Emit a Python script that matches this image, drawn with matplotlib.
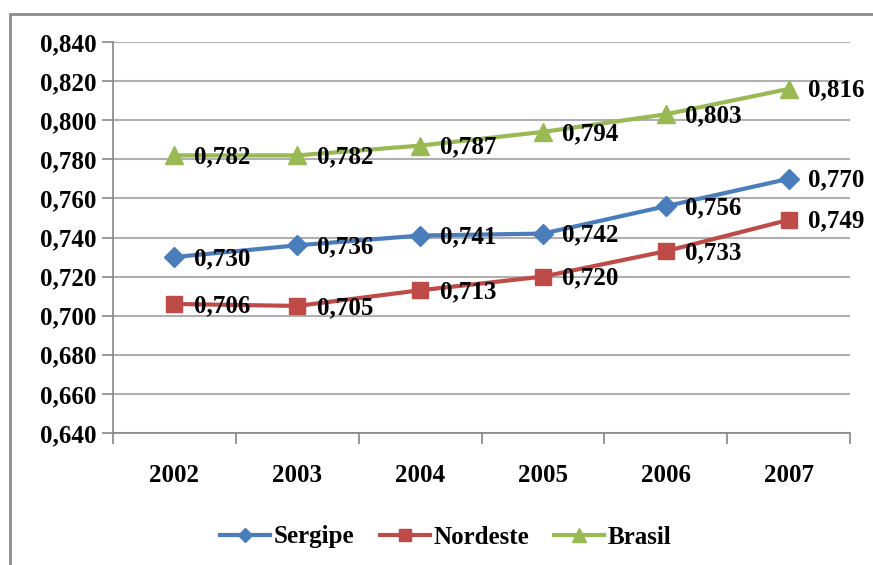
import matplotlib.pyplot as plt
from matplotlib.patches import Rectangle

anos = ['2002', '2003', '2004', '2005', '2006', '2007']
sergipe = [0.730, 0.736, 0.741, 0.742, 0.756, 0.770]
nordeste = [0.706, 0.705, 0.713, 0.720, 0.733, 0.749]
brasil = [0.782, 0.782, 0.787, 0.794, 0.803, 0.816]
yticks = [0.640, 0.660, 0.680, 0.700, 0.720, 0.740, 0.760, 0.780, 0.800, 0.820, 0.840]

FONTE = 'Liberation Serif'
plt.rcParams['font.family'] = FONTE
plt.rcParams['font.weight'] = 'bold'

fig = plt.figure(figsize=(8.73, 5.65), dpi=100)
ax = fig.add_axes([113/873, 1-433/565, 737/873, 391/565])

# borda do grafico (so aparece em cima e a esquerda)
fig.patches.append(Rectangle((10/873, -0.1), 1.2, 1-14/565+0.1, transform=fig.transFigure,
                             fill=False, edgecolor='#8c8c8c', linewidth=2))

x = list(range(len(anos)))
series = [
    ('Sergipe', sergipe, '#4A7EBB', 'D', 10),
    ('Nordeste', nordeste, '#BE4B48', 's', 12),
    ('Brasil', brasil, '#98B954', '^', 13),
]
for nome, vals, cor, mk, ms in series:
    ax.plot(x, vals, color=cor, marker=mk, markersize=ms, linewidth=3, label=nome)
    for xi, v in zip(x, vals):
        ax.annotate(('%.3f' % v).replace('.', ','), (xi, v), xytext=(14, -1),
                    textcoords='offset points', va='center', ha='left',
                    fontsize=18, fontweight='bold', fontfamily=FONTE)

ax.set_xlim(-0.5, 5.5)
ax.set_ylim(0.640, 0.840)
ax.set_yticks(yticks)
ax.set_yticklabels([('%.3f' % t).replace('.', ',') for t in yticks],
                   fontsize=18, fontweight='bold', fontfamily=FONTE)
ax.set_xticks(x)
ax.set_xticklabels(anos, fontsize=18, fontweight='bold', fontfamily=FONTE)
ax.set_xticks([i - 0.5 for i in range(len(anos) + 1)], minor=True)
ax.tick_params(axis='x', which='major', length=0, pad=22)
ax.tick_params(axis='x', which='minor', length=8, color='#868686', width=1.2)
ax.tick_params(axis='y', length=8, color='#868686', width=1.2, pad=4)

ax.grid(axis='y', color='#b0b0b0', linewidth=1.5)
ax.set_axisbelow(True)
for s in ['top', 'right']:
    ax.spines[s].set_visible(False)
ax.spines['left'].set_color('#868686')
ax.spines['bottom'].set_color('#868686')
ax.spines['left'].set_linewidth(1.2)
ax.spines['bottom'].set_linewidth(1.2)

fig.legend(loc='center', bbox_to_anchor=(446/873, 1-537/565), ncol=3, frameon=False,
           handlelength=2.0, handletextpad=0.15, columnspacing=1.0, markerscale=0.75,
           prop={'weight': 'bold', 'size': 18, 'family': FONTE})

fig.savefig('out.png', dpi=100)
